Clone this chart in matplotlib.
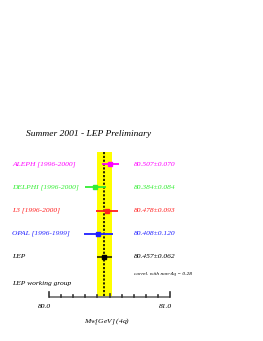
import numpy as np
import matplotlib
matplotlib.use("Agg")
import matplotlib.pyplot as plt

plt.rcParams["mathtext.fontset"] = "custom"
plt.rcParams["mathtext.it"] = "Liberation Serif:italic"
plt.rcParams["mathtext.rm"] = "Liberation Serif:italic"

# measurements
experiments = ["ALEPH [1996-2000]", "DELPHI [1996-2000]", "L3 [1996-2000]",
               "OPAL [1996-1999]", "LEP"]
mass = [80.507, 80.384, 80.478, 80.408, 80.457]
error = [0.070, 0.084, 0.093, 0.120, 0.062]
colors = ["#ff00ff", "#33ee33", "#ff2020", "#2020ff", "#000000"]
avg_mass = 80.457
avg_error = 0.062
x_lo, x_hi = 80.0, 81.0

W, H = 263, 341
fig = plt.figure(figsize=(W / 100, H / 100), dpi=100)
ax = fig.add_axes([0, 0, 1, 1])
ax.set_axis_off()

# map: pixel x = 49 + (v - 80)*121 ; pixel y = 164 + 23.25*row
px0, ppg = 49.0, 121.0
py0, ppr = 164.0, 23.25
ax.set_xlim(x_lo - px0 / ppg, x_lo + (W - px0) / ppg)
ax.set_ylim((H - py0) / ppr, -py0 / ppr)

font = dict(family="Liberation Serif", style="italic")
axis_r = (297 - py0) / ppr
band_top = (152 - py0) / ppr

# yellow band and dotted central value
ax.fill_between([avg_mass - avg_error, avg_mass + avg_error], band_top, axis_r,
                color="#ffff00", lw=0, zorder=1)
ax.plot([avg_mass, avg_mass], [band_top, axis_r], color="black", ls=(0, (1.3, 1.0)),
        lw=1.2, zorder=2)

for i, (name, m, e, col) in enumerate(zip(experiments, mass, error, colors)):
    lc = "#333300" if name == "LEP" else col
    ax.errorbar(m, i, xerr=e, fmt="s", color=col, ecolor=lc, ms=3.5, lw=1.3,
                capsize=0, zorder=3)
    ax.text(80.0 - 37 / ppg, i, name, color=col, fontsize=5.4, va="center", **font)
    ax.text(80.0 + 85 / ppg, i, "%.3f\u00b1%.3f" % (m, e), color=col, fontsize=5.4,
            va="center", **font)

ax.text(80.0 - 23 / ppg, (134 - py0) / ppr, "Summer 2001 - LEP Preliminary",
        fontsize=6.8, va="center", **font)
ax.text(80.0 + 85 / ppg, (274 - py0) / ppr, "correl. with non-4q = 0.28",
        fontsize=3.9, va="center", **font)
ax.text(80.0 - 37 / ppg, (283 - py0) / ppr, "LEP working group",
        fontsize=5.4, va="center", **font)

# hand-drawn x axis
ax.plot([x_lo, x_hi], [axis_r, axis_r], color="#777777", lw=1.3, zorder=4,
        solid_capstyle="butt")
for t in np.arange(0.1, 1.0, 0.1):
    h = 0.14 if abs(t - 0.5) < 1e-6 else 0.08
    ax.plot([x_lo + t] * 2, [axis_r, axis_r - h], color="#333333", lw=1.2, zorder=4)
for t in [x_lo, x_hi]:
    ax.plot([t, t], [axis_r, axis_r - 0.22], color="#333333", lw=1.2, zorder=4)
    ax.text(t + 1.5 / ppg, (306 - py0) / ppr, "%.1f" % t, ha="right", va="center",
            fontsize=5.4, **font)
ax.text(x_lo + 58 / ppg, (321 - py0) / ppr, r"$M_W$[GeV] (4q)", ha="center",
        va="center", fontsize=5.4, **font)

fig.savefig("out.png", dpi=100)
